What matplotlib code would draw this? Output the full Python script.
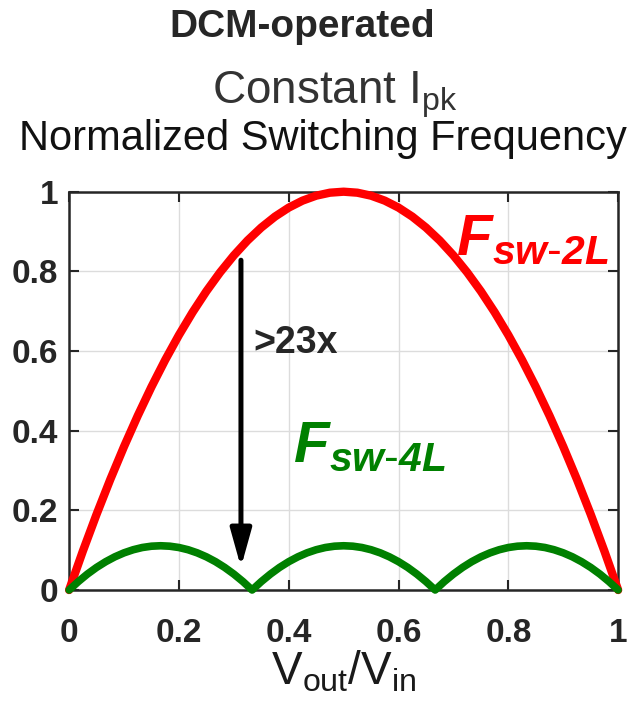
import matplotlib.pyplot as plt

plt.rcParams['font.family'] = ['Liberation Sans', 'DejaVu Sans']

# Vout/Vin samples and normalized switching frequency
x_2l = [0, 0.025, 0.05, 0.075, 0.1, 0.125, 0.15, 0.175, 0.2, 0.225, 0.25,
        0.275, 0.3, 0.325, 0.35, 0.375, 0.4, 0.425, 0.45, 0.475, 0.5,
        0.525, 0.55, 0.575, 0.6, 0.625, 0.65, 0.675, 0.7, 0.725, 0.75,
        0.775, 0.8, 0.825, 0.85, 0.875, 0.9, 0.925, 0.95, 0.975, 1.0]
fsw_2l = [0, 0.0975, 0.19, 0.2775, 0.36, 0.4375, 0.51, 0.5775, 0.64, 0.6975, 0.75,
          0.7975, 0.84, 0.8775, 0.91, 0.9375, 0.96, 0.9775, 0.99, 0.9975, 1.0,
          0.9975, 0.99, 0.9775, 0.96, 0.9375, 0.91, 0.8775, 0.84, 0.7975, 0.75,
          0.6975, 0.64, 0.5775, 0.51, 0.4375, 0.36, 0.2775, 0.19, 0.0975, 0]

x_4l = [0, 0.0167, 0.0333, 0.05, 0.0667, 0.0833, 0.1, 0.1167, 0.1333, 0.15,
        0.1667, 0.1833, 0.2, 0.2167, 0.2333, 0.25, 0.2667, 0.2833, 0.3, 0.3167,
        0.3333, 0.35, 0.3667, 0.3833, 0.4, 0.4167, 0.4333, 0.45, 0.4667, 0.4833,
        0.5, 0.5167, 0.5333, 0.55, 0.5667, 0.5833, 0.6, 0.6167, 0.6333, 0.65,
        0.6667, 0.6833, 0.7, 0.7167, 0.7333, 0.75, 0.7667, 0.7833, 0.8, 0.8167,
        0.8333, 0.85, 0.8667, 0.8833, 0.9, 0.9167, 0.9333, 0.95, 0.9667, 0.9833, 1.0]
fsw_4l = [0, 0.0211, 0.04, 0.0567, 0.0711, 0.0833, 0.0933, 0.1011, 0.1067, 0.11,
          0.1111, 0.11, 0.1067, 0.1011, 0.0933, 0.0833, 0.0711, 0.0567, 0.04, 0.0211,
          0, 0.0211, 0.04, 0.0567, 0.0711, 0.0833, 0.0933, 0.1011, 0.1067, 0.11,
          0.1111, 0.11, 0.1067, 0.1011, 0.0933, 0.0833, 0.0711, 0.0567, 0.04, 0.0211,
          0, 0.0211, 0.04, 0.0567, 0.0711, 0.0833, 0.0933, 0.1011, 0.1067, 0.11,
          0.1111, 0.11, 0.1067, 0.1011, 0.0933, 0.0833, 0.0711, 0.0567, 0.04, 0.0211, 0]

ticks = [0, 0.2, 0.4, 0.6, 0.8, 1]
tick_labels = ['0', '0.2', '0.4', '0.6', '0.8', '1']

fig = plt.figure(figsize=(6.34, 7.10), dpi=100)
ax = fig.add_axes([0.109, 0.169, 0.866, 0.561])

ax.plot(x_2l, fsw_2l, color='#ff0000', lw=6, solid_capstyle='round', clip_on=False, zorder=3)
ax.plot(x_4l, fsw_4l, color='#008000', lw=5.5, solid_capstyle='round', clip_on=False, zorder=4)

ax.set_xlim(0, 1)
ax.set_ylim(0, 1)
ax.set_xticks(ticks)
ax.set_yticks(ticks)
ax.set_xticklabels(tick_labels, fontsize=24, fontweight='bold', color='#262626')
ax.set_yticklabels(tick_labels, fontsize=24, fontweight='bold', color='#262626')
ax.tick_params(axis='both', direction='in', length=7, width=1.5, top=True, right=True, colors='#262626')
ax.tick_params(axis='x', pad=20)
ax.tick_params(axis='y', pad=8)
ax.grid(True, color='#dcdcdc', lw=1)
for s in ax.spines.values():
    s.set_linewidth(1.8)
    s.set_color('#262626')

ax.set_xlabel(r'V$_{\mathregular{out}}$/V$_{\mathregular{in}}$', fontsize=33, color='#1a1a1a', labelpad=0)

# arrow and ratio label
ax.annotate('', xy=(0.313, 0.05), xytext=(0.313, 0.835),
            arrowprops=dict(arrowstyle='-|>,head_width=0.32,head_length=1.15',
                            mutation_scale=20, lw=3.6, color='black'))
ax.text(0.335, 0.62, '>23x', fontsize=27, fontweight='bold', color='#262626', va='center')

ax.text(0.705, 0.842, r'F$_{\mathregular{sw\text{-}2L}}$', fontsize=42, fontweight='bold',
        style='italic', color='#ff0000', va='baseline')
ax.text(0.408, 0.322, r'F$_{\mathregular{sw\text{-}4L}}$', fontsize=42, fontweight='bold',
        style='italic', color='#008000', va='baseline')

fig.text(0.477, 0.962, 'DCM-operated', fontsize=28, fontweight='bold', color='#262626', ha='center', va='center')
fig.text(0.528, 0.866, r'Constant I$_{\mathregular{pk}}$', fontsize=33, color='#333333', ha='center', va='center')
fig.text(0.51, 0.804, 'Normalized Switching Frequency', fontsize=30, color='#111111', ha='center', va='center')

fig.savefig('out.png', dpi=100)
